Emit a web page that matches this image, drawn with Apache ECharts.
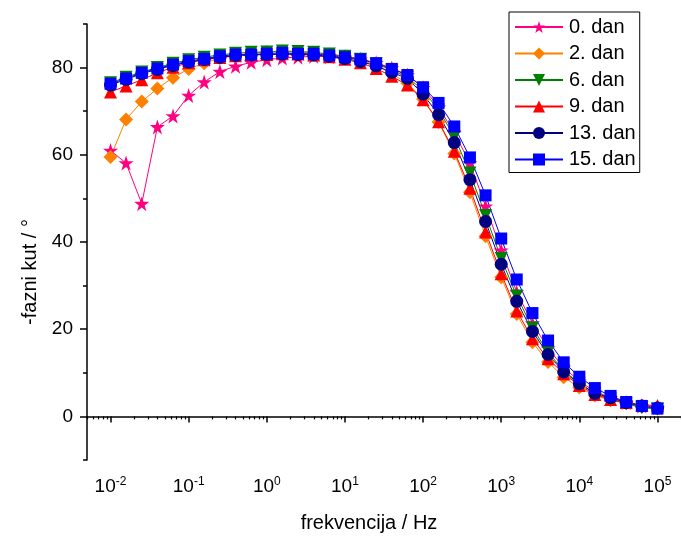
<!DOCTYPE html>
<html>
<head>
<meta charset="utf-8">
<script src="https://cdn.jsdelivr.net/npm/echarts@6/dist/echarts.min.js"></script>
<style>html,body{margin:0;padding:0;background:#fff;}#c{width:681px;height:538px;}</style>
</head>
<body>
<div id="c"></div>
<script>
const freq = [0.01, 0.0158, 0.0251, 0.0398, 0.0631, 0.1, 0.158, 0.251, 0.398, 0.631,
  1, 1.58, 2.51, 3.98, 6.31, 10, 15.8, 25.1, 39.8, 63.1,
  100, 158, 251, 398, 631, 1000, 1580, 2510, 3980, 6310,
  10000, 15800, 25100, 39800, 63100, 100000];

const dan0 = [61.0, 58.1, 48.8, 66.4, 68.9, 73.6, 76.7, 79.1, 80.3, 81.2,
  81.8, 82.2, 82.4, 82.6, 82.5, 82.3, 81.9, 81.1, 79.9, 78.3,
  75.4, 70.9, 65.0, 58.1, 48.2, 38.1, 28.5, 21.4, 15.6, 11.2,
  8.1, 5.7, 4.3, 3.2, 2.4, 2.0];
const dan2 = [59.5, 68.1, 72.2, 75.2, 77.7, 79.7, 81.0, 82.2, 82.8, 83.3,
  83.6, 83.7, 83.6, 83.3, 83.0, 82.6, 81.8, 80.5, 78.6, 76.4,
  72.8, 67.5, 60.3, 51.4, 41.3, 31.9, 23.5, 17.0, 12.5, 9.0,
  6.6, 4.8, 3.7, 3.0, 2.3, 2.0];
const dan6 = [76.5, 77.8, 79.0, 80.0, 81.0, 81.8, 82.4, 82.9, 83.3, 83.5,
  83.6, 83.8, 83.7, 83.5, 83.1, 82.6, 81.9, 80.9, 79.4, 77.8,
  74.8, 70.3, 64.2, 55.8, 46.1, 36.2, 27.6, 20.3, 14.7, 10.5,
  7.6, 5.3, 4.0, 2.9, 2.0, 1.7];
const dan9 = [74.4, 75.8, 77.2, 78.8, 80.1, 81.1, 81.8, 82.3, 82.7, 83.0,
  83.0, 83.2, 83.1, 82.9, 82.5, 81.9, 81.1, 79.8, 78.0, 76.0,
  72.6, 67.6, 60.8, 52.3, 42.3, 32.7, 24.2, 17.8, 13.2, 9.8,
  7.1, 5.0, 3.9, 3.2, 2.6, 2.5];
const dan13 = [76.0, 77.3, 78.6, 79.6, 80.5, 81.3, 81.9, 82.4, 82.8, 82.9,
  83.0, 83.1, 83.0, 82.9, 82.6, 82.1, 81.4, 80.4, 78.9, 77.5,
  73.9, 69.2, 62.8, 54.3, 44.7, 34.9, 26.4, 19.5, 14.2, 10.2,
  7.5, 5.3, 4.3, 3.2, 2.4, 1.9];
const dan15 = [76.3, 77.5, 78.8, 79.8, 80.7, 81.5, 82.0, 82.6, 83.0, 83.0,
  83.2, 83.4, 83.2, 83.2, 82.8, 82.4, 81.9, 81.0, 79.7, 78.3,
  75.5, 71.9, 66.5, 59.4, 50.7, 40.8, 31.4, 23.7, 17.4, 12.4,
  9.1, 6.5, 4.7, 3.3, 2.4, 1.8];

const seriesNames = ['0. dan', '2. dan', '6. dan', '9. dan', '13. dan', '15. dan'];
const seriesValues = [dan0, dan2, dan6, dan9, dan13, dan15];
const xMajorTicks = [0.01, 0.1, 1, 10, 100, 1000, 10000, 100000];
const yMajorTicks = [0, 20, 40, 60, 80];
const yMinorTicks = [-10, 10, 30, 50, 70, 90];

const colors = ['#FF0080', '#FF8000', '#008000', '#FF0000', '#000080', '#0000FF'];
const starPath = 'path://M50,0 L61.8,35.4 L99,35.4 L69,57.3 L80.4,92.7 L50,70.8 L19.6,92.7 L31,57.3 L1,35.4 L38.2,35.4 Z';
const symbols = [starPath, 'diamond', 'triangle', 'triangle', 'circle', 'rect'];
const symbolSizes = [15, 14, 13, 13, 13, 12];
const symbolRotates = [0, 0, 180, 0, 0, 0];

// minor tick positions (2..9 x decade) within the axis range
const xMinorTicks = [];
[0.001, 0.01, 0.1, 1, 10, 100, 1000, 10000, 100000].forEach(function (d) {
  for (let m = 2; m <= 9; m++) {
    const v = +(m * d).toPrecision(3);
    if (v >= 0.005 && v <= 200000) xMinorTicks.push(v);
  }
});

const FONT = 'Liberation Sans, Arial, sans-serif';

const chart = echarts.init(document.getElementById('c'), null, { renderer: 'canvas' });

const series = seriesNames.map(function (name, i) {
  return {
    name: name,
    type: 'line',
    xAxisIndex: 0,
    yAxisIndex: 0,
    data: freq.map(function (f, j) { return [f, seriesValues[i][j]]; }),
    symbol: symbols[i],
    symbolSize: symbolSizes[i],
    symbolRotate: symbolRotates[i],
    showAllSymbol: true,
    lineStyle: { color: colors[i], width: 1 },
    itemStyle: { color: colors[i] },
    emphasis: { disabled: true },
    animation: false
  };
});

const option = {
  animation: false,
  backgroundColor: '#fff',
  grid: { left: 87, right: 0, top: 24, bottom: 78, containLabel: false, outerBoundsMode: 'none' },
  legend: {
    data: seriesNames,
    orient: 'vertical',
    left: 509,
    top: 12,
    padding: [5, 4, 3, 5],
    itemWidth: 48,
    itemHeight: 15,
    itemGap: 6.5,
    borderColor: '#000',
    borderWidth: 1,
    backgroundColor: '#fff',
    textStyle: { fontFamily: FONT, fontSize: 20, color: '#000', lineHeight: 20, padding: [0, 0, 0, 1] }
  },
  xAxis: [
    {
      type: 'log',
      logBase: 10,
      min: 0.005,
      max: 200000,
      position: 'bottom',
      name: 'frekvencija / Hz',
      nameLocation: 'middle',
      nameGap: 53,
      nameTextStyle: { fontFamily: FONT, fontSize: 20, color: '#000', padding: [0, 30, 0, 0] },
      axisLine: { show: true, lineStyle: { color: '#000', width: 1.5 } },
      axisTick: { show: true, customValues: xMajorTicks, length: 6, inside: false, lineStyle: { color: '#000', width: 1.5 } },
      axisLabel: {
        customValues: xMajorTicks,
        margin: 16,
        fontFamily: FONT,
        fontSize: 19,
        color: '#000',
        formatter: function (v) {
          const e = Math.round(Math.log10(v));
          return '{b|10}{s|' + e + '}';
        },
        rich: {
          b: { fontFamily: FONT, fontSize: 19, color: '#000' },
          s: { fontFamily: FONT, fontSize: 12, color: '#000', padding: [0, 0, 10, 0] }
        }
      },
      splitLine: { show: false },
      minorTick: { show: false },
      minorSplitLine: { show: false }
    },
    {
      type: 'log',
      logBase: 10,
      min: 0.005,
      max: 200000,
      position: 'bottom',
      axisLine: { show: false },
      axisTick: { show: true, customValues: xMinorTicks, length: 3, inside: false, lineStyle: { color: '#000', width: 1.2 } },
      axisLabel: { show: false },
      splitLine: { show: false }
    }
  ],
  yAxis: [
    {
      type: 'value',
      min: -10,
      max: 90,
      position: 'left',
      name: '-fazni kut / \u00B0',
      nameLocation: 'middle',
      nameGap: 47,
      nameRotate: 90,
      nameTextStyle: { fontFamily: FONT, fontSize: 20, color: '#000', padding: [0, 60, 0, 0] },
      axisLine: { show: true, lineStyle: { color: '#000', width: 1.5 } },
      axisTick: { show: true, customValues: yMajorTicks, length: 7, inside: false, lineStyle: { color: '#000', width: 1.5 } },
      axisLabel: { customValues: yMajorTicks, margin: 14, fontFamily: FONT, fontSize: 19, color: '#000' },
      splitLine: { show: false }
    },
    {
      type: 'value',
      min: -10,
      max: 90,
      position: 'left',
      axisLine: { show: false },
      axisTick: { show: true, customValues: yMinorTicks, length: 4, inside: false, lineStyle: { color: '#000', width: 1.5 } },
      axisLabel: { show: false },
      splitLine: { show: false }
    }
  ],
  series: series
};

chart.setOption(option);
</script>
</body>
</html>
